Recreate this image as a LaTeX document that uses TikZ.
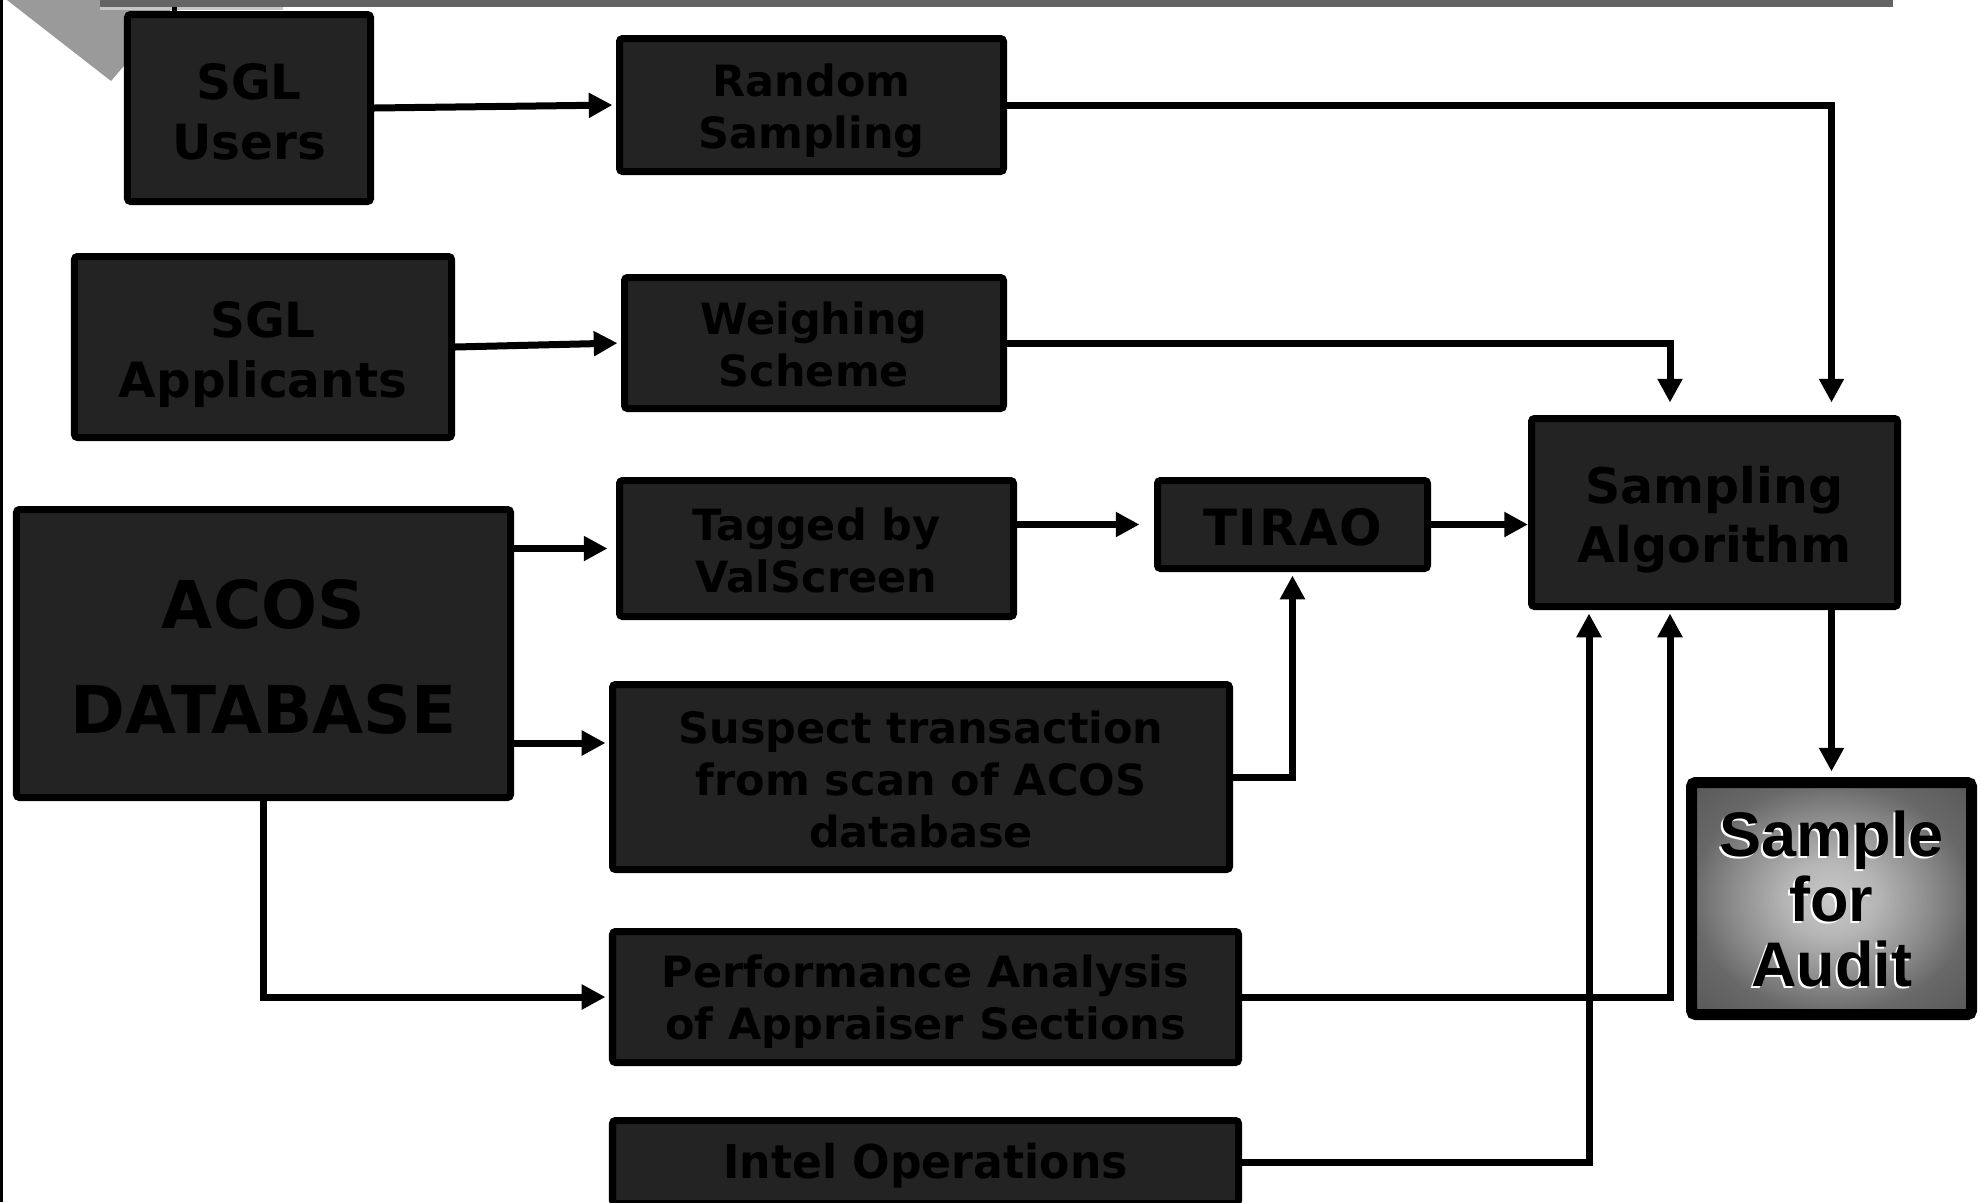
\documentclass[tikz,border=0pt]{standalone}
\usepackage{fontspec}
\setsansfont{DejaVu Sans}
\newfontfamily\condfont{DejaVu Sans}[FakeStretch=0.95]
\newfontfamily\arialfont{Liberation Sans}
\usetikzlibrary{arrows.meta,calc}
\definecolor{boxfill}{HTML}{232323}
\definecolor{barcol}{HTML}{646464}
\definecolor{tricol}{HTML}{9A9A9A}
\definecolor{shA}{HTML}{C8C8C8}
\definecolor{shB}{HTML}{B6B6B6}
\definecolor{shC}{HTML}{8A8A8A}
\definecolor{shD}{HTML}{686868}
\definecolor{shE}{HTML}{575757}
\pgfdeclareradialshading{auditshade}{\pgfpoint{0bp}{0bp}}{color(0bp)=(shA); color(8bp)=(shB); color(18bp)=(shC); color(25bp)=(shD); color(36bp)=(shE); color(50bp)=(shE)}
\tikzset{
  box/.style={draw=black, fill=boxfill, line width=2.8pt, rounded corners=1.2pt, inner sep=0pt},
  txt/.style={inner sep=0pt, align=center, text=black},
  txtstd/.style={txt, font=\sffamily\bfseries\fontsize{17.2pt}{20.8pt}\selectfont},
  txtbig/.style={txt, font=\sffamily\bfseries\fontsize{19.4pt}{23.8pt}\selectfont},
  conn/.style={line width=2.8pt, -{Triangle[length=9.5pt,width=9.5pt]}, shorten >=1.4pt},
}
\begin{document}
\begin{tikzpicture}[x=0.4pt, y=-0.4pt]
\useasboundingbox (0,0) rectangle (1982,1202);
\clip (0,0) rectangle (1982,1202);
\fill[white] (0,0) rectangle (1982,1202);
% decorations at top-left
\fill[tricol] (7,0) -- (170,0) -- (170,12) -- (111,81) -- cycle;
\fill[barcol] (100,0) rectangle (1893,7);
\fill[gray!45] (100,7) rectangle (283,10);
\fill[black] (172,7) rectangle (177,12);
\fill[black] (0,0) rectangle (2.5,1202);
% helper coordinates
\coordinate (colA) at (1670,0);
\coordinate (colB) at (1589,0);
\coordinate (rowS) at (0,743);
% boxes
\node[box, minimum width=97.2pt, minimum height=74.8pt] (users) at (249,108) {};
\node[box, minimum width=153.6pt, minimum height=53.2pt] (random) at (811.5,105) {};
\node[box, minimum width=150.8pt, minimum height=72.4pt] (applicants) at (263,347) {};
\node[box, minimum width=151.6pt, minimum height=52.4pt] (weighing) at (814,343) {};
\node[box, minimum width=197.6pt, minimum height=115.2pt] (acos) at (263.5,653.5) {};
\node[box, minimum width=157.6pt, minimum height=54.4pt] (tagged) at (816.5,548.5) {};
\node[box, minimum width=108pt, minimum height=35.2pt] (tirao) at (1292.5,524.5) {};
\node[box, minimum width=146.4pt, minimum height=75.2pt] (sa) at (1714.5,512.5) {};
\node[box, minimum width=246.8pt, minimum height=74pt] (suspect) at (921,777) {};
\node[box, minimum width=250.4pt, minimum height=52.4pt] (perf) at (925.5,997) {};
\node[box, minimum width=250.4pt, minimum height=33.2pt] (intel) at (925.5,1162) {};
\node[draw=black, line width=4.4pt, rounded corners=1.6pt, shading=auditshade, minimum width=112pt, minimum height=92.8pt, inner sep=0pt] (audit) at (1831.5,898.5) {};
% texts
\node[txtbig, yshift=-1.5pt] (usersT) at (users.center) {SGL\\Users};
\node[txtstd, yshift=-2.5pt] (randomT) at (random.center) {Random\\Sampling};
\node[txtbig, yshift=-3pt] (applicantsT) at (applicants.center) {SGL\\Applicants};
\node[txtstd, yshift=-0.5pt] (weighingT) at (weighing.center) {Weighing\\Scheme};
\node[txt, font=\sffamily\bfseries\fontsize{26.4pt}{42pt}\selectfont, yshift=-1.2pt] (acosT) at (acos.center) {ACOS\\DATABASE};
\node[txtstd, yshift=-0.7pt] (taggedT) at (tagged.center) {Tagged by\\ValScreen};
\node[txt, font=\sffamily\bfseries\fontsize{20pt}{24pt}\selectfont, yshift=-1pt] (tiraoT) at (tirao.center) {T\kern0.6pt I\kern0.6pt R\kern0.6pt A\kern0.6pt O};
\node[txt, font=\sffamily\bfseries\fontsize{19.6pt}{23.6pt}\selectfont, yshift=-2.8pt] (saT) at (sa.center) {Sampling\\Algorithm};
\node[txtstd, yshift=-1pt] (suspectT) at (suspect.center) {Suspect transaction\\from scan of ACOS\\database};
\node[txtstd, yshift=-2pt] (perfT) at (perf.center) {Performance Analysis\\of Appraiser Sections};
\node[txt, font=\condfont\bfseries\fontsize{18.6pt}{22pt}\selectfont, yshift=-1.5pt] (intelT) at (intel.center) {Intel Operations};
\node[txt, font=\arialfont\bfseries\fontsize{25.2pt}{26pt}\selectfont, text=white] (auditshadow) at ($(audit.center)+(-2,2)$) {Sample\\for\\Audit};
\node[txt, font=\arialfont\bfseries\fontsize{25.2pt}{26pt}\selectfont] (auditT) at (audit.center) {Sample\\for\\Audit};
% connectors
\draw[conn] (users.east) -- (random.west);
\draw[conn] (applicants.east) -- (weighing.west);
\draw[conn, shorten >=3.4pt] (acos.east |- tagged.west) -- (tagged.west);
\draw[conn] (acos.east |- rowS) -- (suspect.west |- rowS);
\draw[conn] (acos.south) |- (perf.west);
\draw[conn, shorten >=5pt] (random.east) -| (sa.north -| audit.north);
\draw[conn, shorten >=5pt] (weighing.east) -| (sa.north -| colA);
\draw[conn, shorten >=5.8pt] (tagged.east |- tirao.west) -- (tirao.west);
\draw[conn, shorten >=0pt] (tirao.east) -- (tirao.east -| sa.west);
\draw[conn] (suspect.east) -| (tirao.south);
\draw[conn] (perf.east) -| (sa.south -| colA);
\draw[conn] (intel.east) -| (sa.south -| colB);
\draw[conn, shorten >=2.2pt] (sa.south -| audit.north) -- (audit.north);
\end{tikzpicture}
\end{document}
